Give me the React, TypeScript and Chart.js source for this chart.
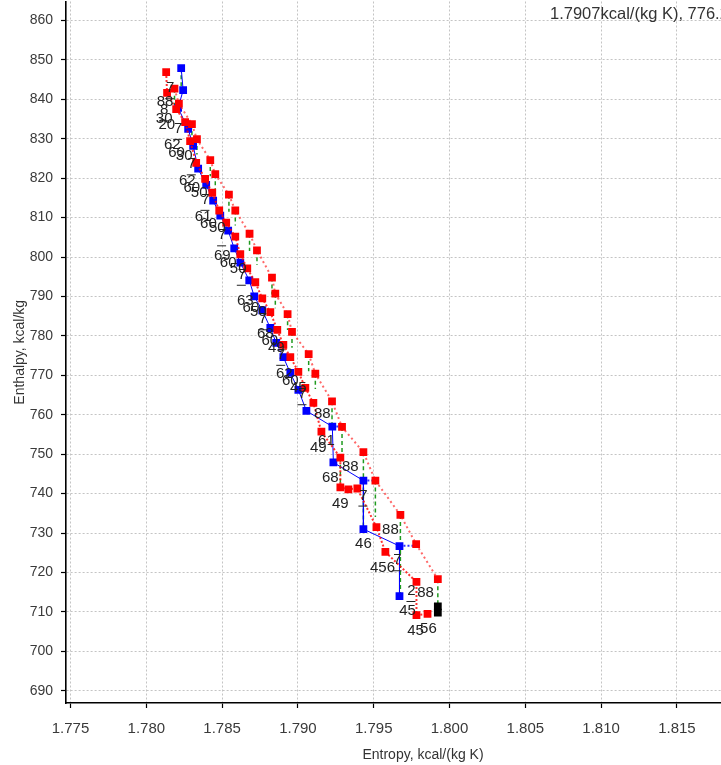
import React, { useEffect, useRef } from "react";
import { Chart, registerables } from "chart.js";

Chart.register(...registerables);

const xTicks = [1.775, 1.78, 1.785, 1.79, 1.795, 1.8, 1.805, 1.81, 1.815, 1.82];
const yTicks = [690, 700, 710, 720, 730, 740, 750, 760, 770, 780, 790, 800, 810, 820, 830, 840, 850, 860];

const redOuterX = [1.78186, 1.78215, 1.78301, 1.78334, 1.78422, 1.78455, 1.78545, 1.78587, 1.78681, 1.7873, 1.78829, 1.78851, 1.78932, 1.78961, 1.79071, 1.79115, 1.79225, 1.79291, 1.79432, 1.79511, 1.79676, 1.7978, 1.79923];
const redOuterY = [842.7, 838.9, 833.7, 829.9, 824.6, 821.0, 815.8, 811.8, 805.9, 801.7, 794.8, 790.7, 785.5, 781.0, 775.4, 770.4, 763.4, 756.9, 750.5, 743.3, 734.6, 727.2, 718.3];

const redInnerX = [1.78131, 1.78137, 1.78197, 1.78256, 1.78289, 1.78329, 1.78388, 1.78435, 1.78481, 1.78527, 1.78587, 1.7862, 1.78666, 1.78719, 1.78765, 1.78818, 1.78864, 1.78904, 1.7895, 1.79003, 1.79049, 1.79102, 1.79155, 1.7928, 1.7928, 1.79333, 1.79392, 1.79518, 1.79577, 1.79782, 1.79782, 1.79855];
const redInnerY = [846.9, 841.6, 837.5, 834.2, 829.4, 823.9, 819.8, 816.3, 811.8, 808.7, 805.2, 800.7, 797.1, 793.6, 789.5, 786.0, 781.5, 777.7, 774.6, 770.9, 766.8, 763.0, 755.7, 749.1, 741.6, 741.1, 741.3, 731.5, 725.2, 717.6, 709.2, 709.5];

const blueX = [1.7823, 1.78243, 1.7821, 1.78276, 1.78309, 1.78342, 1.78395, 1.78441, 1.78488, 1.7854, 1.7858, 1.7862, 1.78679, 1.78712, 1.78765, 1.78818, 1.78857, 1.78904, 1.7895, 1.79003, 1.79056, 1.79227, 1.79234, 1.79432, 1.79432, 1.7967, 1.7967];
const blueY = [847.9, 842.3, 837.8, 832.5, 828.2, 822.4, 818.3, 814.3, 810.5, 806.7, 802.2, 798.6, 794.1, 790.0, 786.5, 782.0, 778.2, 774.6, 770.6, 766.3, 761.0, 757.0, 747.9, 743.3, 731.0, 726.7, 714.0];

const blueLinkX1 = [1.79227, 1.79432, 1.7967];
const blueLinkX2 = [1.79291, 1.79511, 1.7978];
const blueLinkY = [757.0, 743.3, 726.8];

const greenX = [1.7823, 1.78186, 1.78301, 1.78334, 1.78422, 1.78455, 1.78545, 1.78587, 1.78681, 1.7873, 1.78829, 1.78851, 1.78932, 1.78961, 1.79071, 1.79115, 1.79225, 1.79291, 1.79432, 1.7928, 1.79511, 1.79432, 1.79676, 1.79923];
const greenTop = [847.9, 842.7, 833.7, 829.9, 824.6, 821.0, 815.8, 811.8, 805.9, 801.7, 794.8, 790.7, 785.5, 781.0, 775.4, 770.4, 763.4, 756.9, 750.5, 749.1, 743.3, 743.3, 734.6, 718.3];
const greenBottom = [842.3, 838.5, 829.5, 826.0, 820.5, 817.0, 811.5, 808.0, 801.5, 798.0, 790.5, 787.0, 781.5, 777.0, 771.0, 766.5, 757.0, 749.1, 743.3, 741.6, 734.1, 731.0, 714.0, 709.7];

const blackX = [1.79923, 1.79923];
const blackY = [711.4, 709.8];

const labelText = [
  "7", "88", "30", "7", "62", "30", "62", "50", "61", "50", "69", "50", "63", "50", "68", "49", "62", "45",
  "88", "61", "49", "88", "68", "7", "49", "88", "46", "7", "456", "2", "88", "45", "45", "56",
  "60", "7", "60", "7", "60", "7", "60", "7", "60", "7", "60", "7", "60", "7", "8", "20",
];
const labelX = [
  1.78157, 1.78124, 1.78118, 1.7821, 1.78171, 1.7825, 1.7827, 1.78349, 1.78375, 1.78468, 1.78501, 1.78606, 1.78653, 1.78739, 1.78785, 1.78857, 1.7891, 1.79003,
  1.79161, 1.79188, 1.79135, 1.79346, 1.79214, 1.79432, 1.7928, 1.7961, 1.79432, 1.79657, 1.79558, 1.79749, 1.79842, 1.79723, 1.79776, 1.79861,
  1.782, 1.783, 1.783, 1.7839, 1.7841, 1.785, 1.7854, 1.7863, 1.7869, 1.7877, 1.78815, 1.7889, 1.7895, 1.7903, 1.78118, 1.78135,
];
const labelY = [
  842.8, 839.3, 835.0, 832.5, 828.4, 825.7, 819.3, 816.3, 810.3, 807.5, 800.4, 797.1, 789.0, 786.0, 780.5, 776.9, 770.4, 766.8,
  760.3, 753.4, 751.7, 746.9, 744.1, 739.5, 737.5, 730.7, 727.2, 723.1, 721.1, 715.3, 714.8, 710.3, 705.2, 705.7,
  826.5, 823.5, 817.5, 814.5, 808.5, 805.5, 798.5, 795.5, 787.2, 784.2, 778.7, 775.2, 768.6, 765.2, 837.2, 833.4,
];

const readout = "1.7907kcal/(kg K), 776.2kcal/kg";

const FONT = "'Liberation Sans', Arial, sans-serif";
const SHIFT = 4;

function pts(xs: number[], ys: number[]) {
  return xs.map((x, i) => ({ x, y: ys[i] }));
}

function segments(xs1: number[], ys1: number[], xs2: number[], ys2: number[]) {
  const out: { x: number; y: number | null }[] = [];
  xs1.forEach((x, i) => {
    out.push({ x, y: ys1[i] });
    out.push({ x: xs2[i], y: ys2[i] });
    out.push({ x: xs2[i], y: null });
  });
  return out;
}

const labelPlugin = {
  id: "pointLabels",
  afterDatasetsDraw(chart: any) {
    const ctx = chart.ctx;
    const xs = chart.scales.x;
    const ys = chart.scales.y;
    ctx.save();
    ctx.font = "15px " + FONT;
    ctx.fillStyle = "#222";
    ctx.strokeStyle = "#222";
    ctx.lineWidth = 1;
    ctx.textAlign = "center";
    ctx.textBaseline = "middle";
    labelText.forEach((t, i) => {
      const px = xs.getPixelForValue(labelX[i]);
      const py = ys.getPixelForValue(labelY[i]);
      ctx.fillText(t, px, py);
      if (t.length === 1) {
        ctx.beginPath();
        ctx.moveTo(px - 5, py + 10.5);
        ctx.lineTo(px + 4, py + 10.5);
        ctx.stroke();
      }
    });
    ctx.textAlign = "left";
    ctx.fillStyle = "#333";
    ctx.font = "16.5px " + FONT;
    ctx.fillText(readout, 550, 14 + SHIFT);
    ctx.restore();
  },
};

function zeroPad(s: any) {
  s.paddingTop = 0;
  s.paddingBottom = 0;
  s.paddingLeft = 0;
  s.paddingRight = 0;
}

export default function App() {
  const ref = useRef<HTMLCanvasElement>(null);
  useEffect(() => {
    if (!ref.current) return;
    const chart = new Chart(ref.current, {
      type: "scatter",
      data: {
        datasets: [
          {
            label: "black",
            data: pts(blackX, blackY),
            pointStyle: "rect",
            pointRadius: 5.5,
            pointBorderWidth: 0,
            pointBackgroundColor: "#000",
            showLine: false,
          },
          {
            label: "redInner",
            data: pts(redInnerX, redInnerY),
            pointStyle: "rect",
            pointRadius: 5.5,
            pointBorderWidth: 0,
            pointBackgroundColor: "#ff0000",
            borderColor: "rgba(255,0,0,0.8)",
            borderWidth: 2,
            borderDash: [2, 2],
            showLine: true,
          },
          {
            label: "redOuter",
            data: pts(redOuterX, redOuterY),
            pointStyle: "rect",
            pointRadius: 5.5,
            pointBorderWidth: 0,
            pointBackgroundColor: "#ff0000",
            borderColor: "rgba(255,40,40,0.7)",
            borderWidth: 2,
            borderDash: [2, 3],
            showLine: true,
          },
          {
            label: "blue",
            data: pts(blueX, blueY),
            pointStyle: "rect",
            pointRadius: 5.5,
            pointBorderWidth: 0,
            pointBackgroundColor: "#0000ff",
            borderColor: "#0000ff",
            borderWidth: 1,
            showLine: true,
          },
          {
            label: "blueLink",
            data: segments(blueLinkX1, blueLinkY, blueLinkX2, blueLinkY),
            pointRadius: 0,
            borderColor: "#3030ff",
            borderWidth: 2,
            borderDash: [2, 2],
            showLine: true,
            spanGaps: false,
          },
          {
            label: "green",
            data: segments(greenX, greenTop, greenX, greenBottom),
            pointRadius: 0,
            borderColor: "#1f9a1f",
            borderWidth: 1.5,
            borderDash: [4, 3],
            showLine: true,
            spanGaps: false,
          },
        ],
      },
      options: {
        responsive: false,
        animation: false,
        events: [],
        layout: { padding: { left: 0, right: 10, top: 0, bottom: 0 } },
        plugins: { legend: { display: false }, tooltip: { enabled: false } },
        scales: {
          x: {
            type: "linear",
            min: 1.774703,
            max: 1.8218,
            afterBuildTicks: (s: any) => {
              s.ticks = xTicks.map((v) => ({ value: v }));
            },
            afterFit: (s: any) => {
              s.height = 62;
              zeroPad(s);
            },
            ticks: {
              color: "#3a3a3a",
              font: { family: FONT, size: 15 },
              padding: 12,
              maxRotation: 0,
              autoSkip: false,
              callback: (v: any) => Number(v).toFixed(3),
            },
            grid: {
              color: "#c4c4c4",
              lineWidth: 1,
              tickLength: 5,
              tickColor: "#000",
              tickWidth: 1.2,
            },
            border: { display: true, color: "#000", width: 1.6, dash: [2, 2] },
            title: {
              display: true,
              text: "Entropy, kcal/(kg K)",
              color: "#333",
              font: { family: FONT, size: 14 },
              padding: { top: 0, bottom: 1.6 },
            },
          },
          y: {
            type: "linear",
            min: 686.9,
            max: 864.8,
            afterBuildTicks: (s: any) => {
              s.ticks = yTicks.map((v) => ({ value: v }));
            },
            afterFit: (s: any) => {
              s.width = 66;
              zeroPad(s);
            },
            ticks: {
              color: "#3a3a3a",
              font: { family: FONT, size: 14 },
              padding: 8,
              autoSkip: false,
              callback: (v: any) => String(v),
            },
            grid: {
              color: "#c4c4c4",
              lineWidth: 1,
              tickLength: 5,
              tickColor: "#000",
              tickWidth: 1.2,
            },
            border: { display: true, color: "#000", width: 1.6, dash: [2, 2] },
            title: {
              display: true,
              text: "Enthalpy, kcal/kg",
              color: "#333",
              font: { family: FONT, size: 14 },
              padding: { top: 11.6, bottom: 0 },
            },
          },
        },
      },
      plugins: [labelPlugin],
    });
    return () => chart.destroy();
  }, []);

  return (
    <div
      style={{
        position: "fixed",
        left: 0,
        top: 0,
        width: 721,
        height: 765,
        overflow: "hidden",
        background: "#fff",
      }}
    >
      <canvas
        ref={ref}
        width={790}
        height={765 + SHIFT}
        style={{ display: "block", width: 790, height: 765 + SHIFT, marginTop: -SHIFT }}
      />
    </div>
  );
}
